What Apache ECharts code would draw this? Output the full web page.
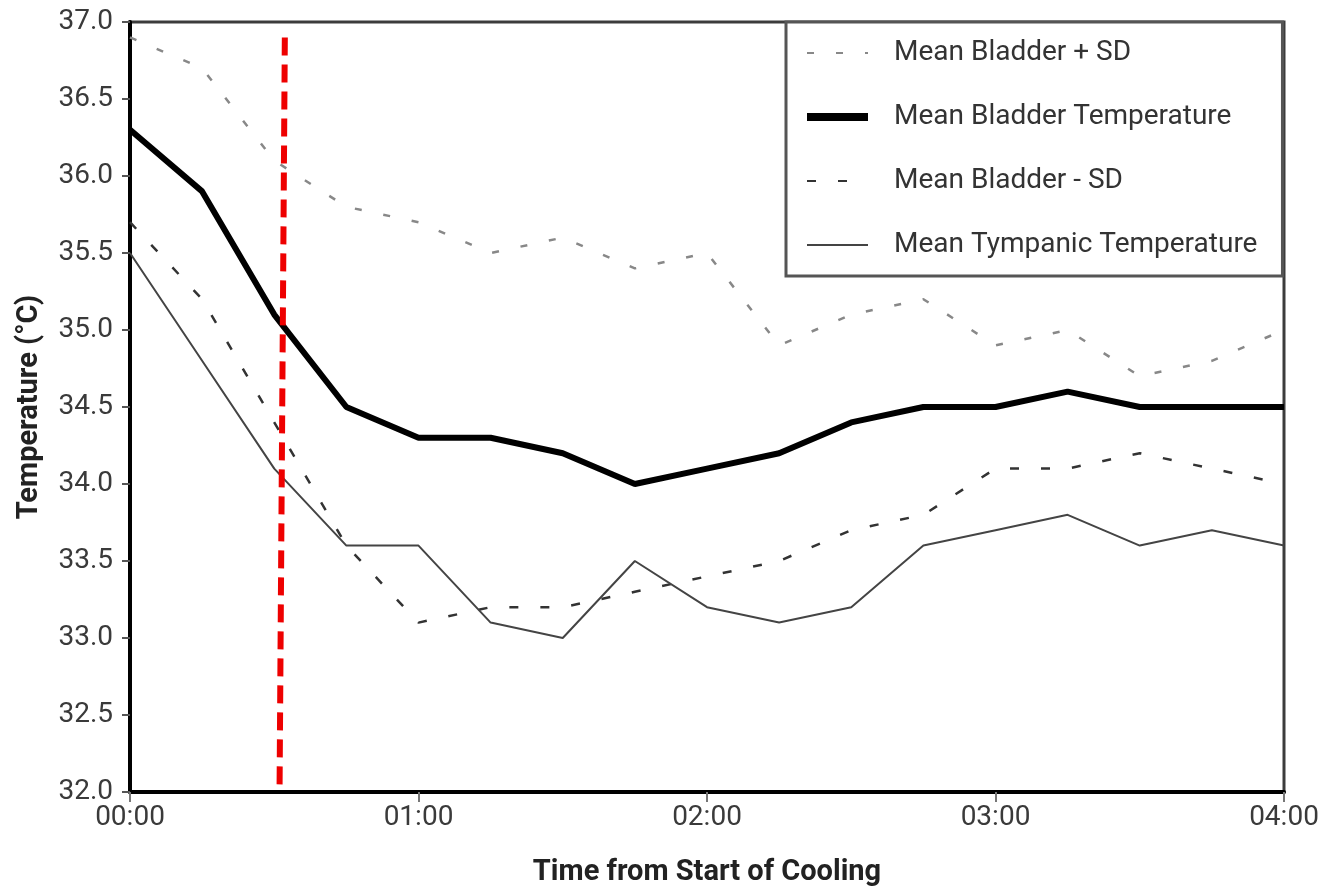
<!DOCTYPE html>
<html>
<head>
    <meta charset="utf-8">
    <script src="https://cdn.jsdelivr.net/npm/echarts@6/dist/echarts.min.js"></script>
    <style>html,body{margin:0;padding:0;background:#fff;}</style>
</head>
<body>
<div id="main" style="width:1328px;height:886px;"></div>
<script type="text/javascript">
    // minutes from start of cooling, one reading every 15 min
    var minutes = [0,15,30,45,60,75,90,105,120,135,150,165,180,195,210,225,240];
    var bladderPlusSD  = [36.9,36.7,36.1,35.8,35.7,35.5,35.6,35.4,35.5,34.9,35.1,35.2,34.9,35.0,34.7,34.8,35.0];
    var bladderMean    = [36.3,35.9,35.1,34.5,34.3,34.3,34.2,34.0,34.1,34.2,34.4,34.5,34.5,34.6,34.5,34.5,34.5];
    var bladderMinusSD = [35.7,35.2,34.4,33.6,33.1,33.2,33.2,33.3,33.4,33.5,33.7,33.8,34.1,34.1,34.2,34.1,34.0];
    var tympanic       = [35.5,34.8,34.1,33.6,33.6,33.1,33.0,33.5,33.2,33.1,33.2,33.6,33.7,33.8,33.6,33.7,33.6];
    var xTickLabels = ['00:00','01:00','02:00','03:00','04:00'];
    // red vertical marker (a bit slanted in the original)
    var markerX = [32.2, 31.1];
    var markerY = [36.9, 32.0];

    function pairs(xs, ys){
        var out = [];
        for (var i = 0; i < xs.length; i++) out.push([xs[i], ys[i]]);
        return out;
    }

    var myChart = echarts.init(document.getElementById('main'));

    var labelFont = {fontFamily: 'Roboto', fontSize: 28, color: '#3a3a3a'};
    var titleFont = {fontFamily: 'Roboto', fontSize: 29, fontWeight: 'bold', color: '#222'};

    var option = {
        animation: false,
        backgroundColor: '#fff',
        grid: {
            left: 130, right: 44, top: 22, bottom: 94,
            outerBoundsMode: 'none',
            show: true, borderColor: '#3c3c3c', borderWidth: 3
        },
        legend: {
            orient: 'vertical',
            left: 786, top: 22,
            itemWidth: 61, itemHeight: 14, itemGap: 34,
            padding: [16, 25, 16, 17],
            borderColor: '#555', borderWidth: 3,
            backgroundColor: '#fff',
            // hide the little circle ECharts puts on line legend icons
            itemStyle: {opacity: 0},
            data: [
                'Mean Bladder + SD',
                {name: 'Mean Bladder Temperature', lineStyle: {width: 8}},
                'Mean Bladder - SD',
                'Mean Tympanic Temperature'
            ],
            textStyle: {fontFamily: 'Roboto', fontSize: 28, color: '#333', lineHeight: 30, padding: [0, 0, 0, 21]}
        },
        xAxis: {
            type: 'value',
            min: 0, max: 240, interval: 60,
            name: 'Time from Start of Cooling',
            nameLocation: 'middle', nameGap: 66,
            nameTextStyle: titleFont,
            axisLine: {show: true, lineStyle: {color: '#000', width: 4}},
            axisTick: {show: true, length: 10, lineStyle: {color: '#777', width: 2}},
            axisLabel: Object.assign({margin: 12, formatter: function(v){ return xTickLabels[v / 60]; }}, labelFont),
            splitLine: {show: false}
        },
        yAxis: {
            type: 'value',
            min: 32, max: 37, interval: 0.5,
            name: 'Temperature (°C)',
            nameLocation: 'middle', nameGap: 86,
            nameTextStyle: titleFont,
            axisLine: {show: true, lineStyle: {color: '#000', width: 4}},
            axisTick: {show: true, length: 8, lineStyle: {color: '#555', width: 2}},
            axisLabel: Object.assign({margin: 17, formatter: function(v){ return v.toFixed(1); }}, labelFont),
            splitLine: {show: false}
        },
        series: [
            {
                name: 'Mean Bladder + SD', type: 'line', symbol: 'none',
                data: pairs(minutes, bladderPlusSD),
                lineStyle: {color: '#888', width: 2.5, type: [7, 22]},
                itemStyle: {color: '#888'}
            },
            {
                name: 'Mean Bladder Temperature', type: 'line', symbol: 'none',
                data: pairs(minutes, bladderMean),
                lineStyle: {color: '#000', width: 6},
                itemStyle: {color: '#000'}
            },
            {
                name: 'Mean Bladder - SD', type: 'line', symbol: 'none',
                data: pairs(minutes, bladderMinusSD),
                lineStyle: {color: '#333', width: 2.5, type: [9, 22]},
                itemStyle: {color: '#333'}
            },
            {
                name: 'Mean Tympanic Temperature', type: 'line', symbol: 'none',
                data: pairs(minutes, tympanic),
                lineStyle: {color: '#444', width: 2},
                itemStyle: {color: '#444'}
            },
            {
                name: 'marker', type: 'line', symbol: 'none', silent: true,
                data: pairs(markerX, markerY),
                lineStyle: {color: '#ee0000', width: 6, type: [18, 9]},
                z: 5
            }
        ]
    };

    myChart.setOption(option);
</script>
</body>
</html>
